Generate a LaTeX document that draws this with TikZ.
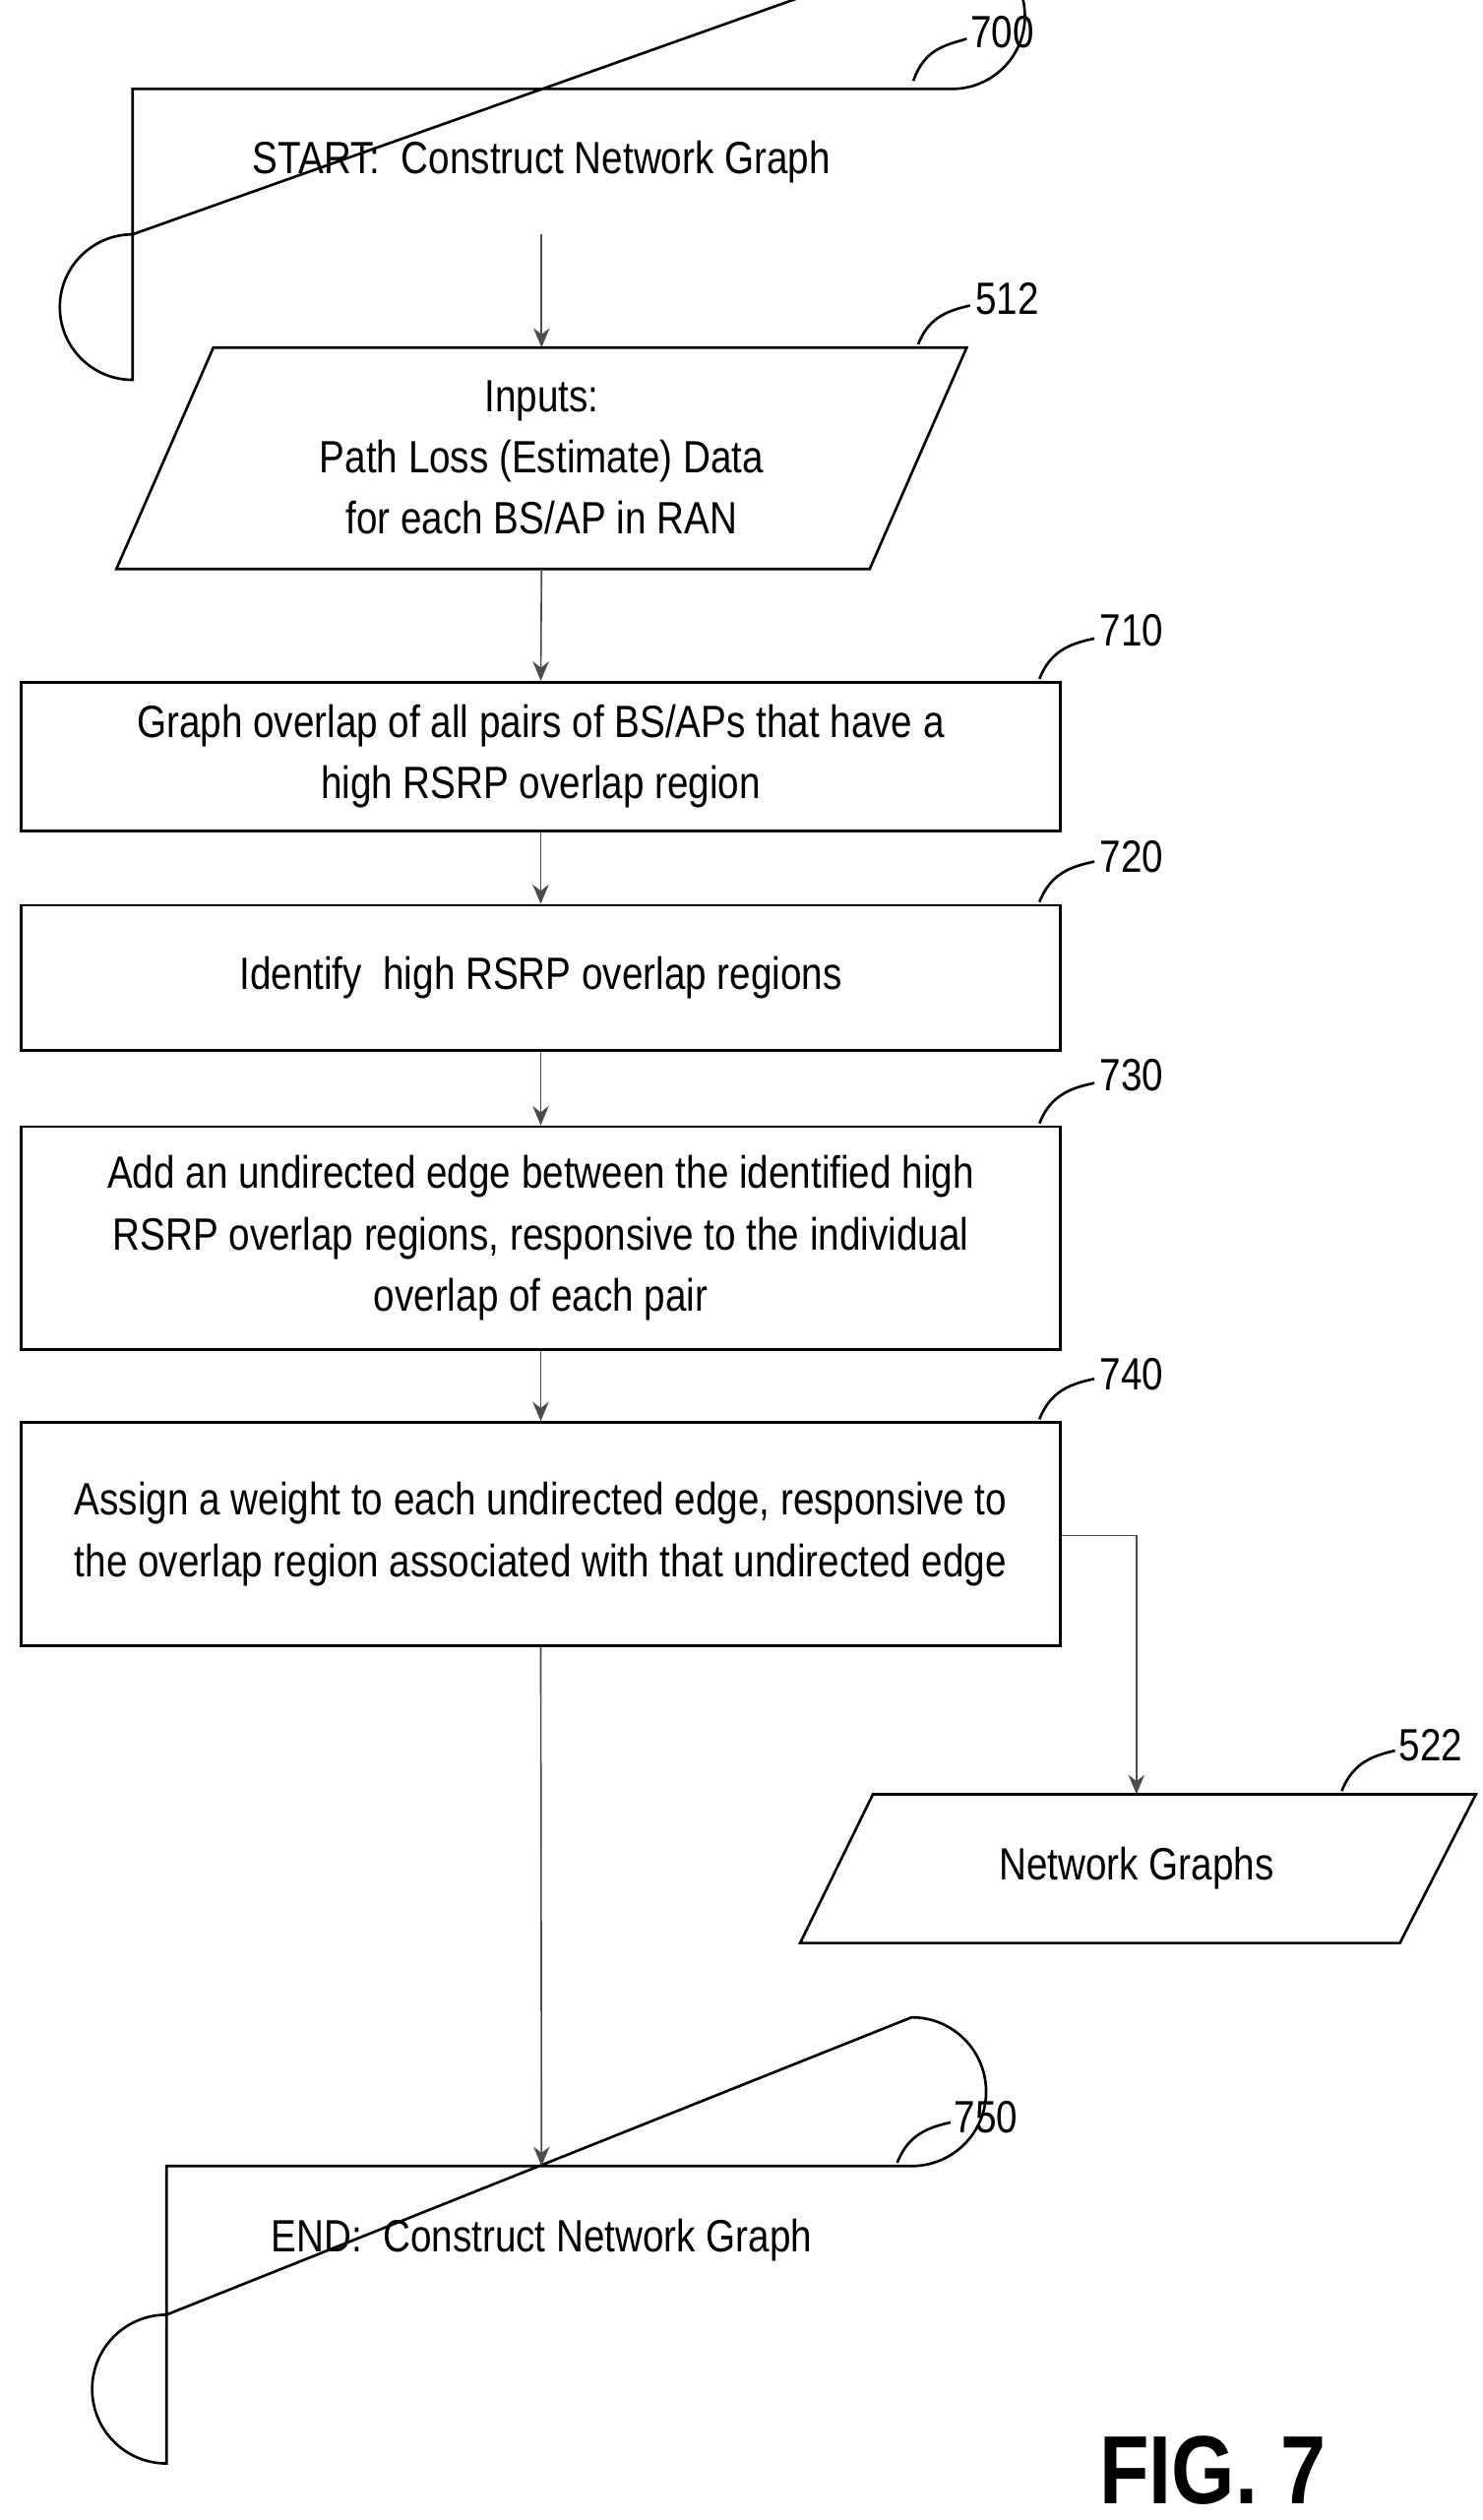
\documentclass[tikz,border=0pt]{standalone}
\usepackage{fontspec}
\setmainfont[FakeStretch=0.84]{Liberation Sans}
\usetikzlibrary{arrows.meta}
\begin{document}
\begin{tikzpicture}[x=0.5pt,y=-0.5pt,
  font=\fontsize{14}{19}\selectfont,
  box/.style={draw,line width=0.8pt},
  arr/.style={draw=black!70,line width=0.5pt,-{Stealth[length=6pt,width=5pt]}},
  lbl/.style={font=\fontsize{14}{17}\selectfont},
  lead/.style={line width=0.8pt}]
\useasboundingbox (0,0) rectangle (917,1559);
% start
\draw[box] (82,55) -- (589,55) arc[start angle=90,end angle=-90,radius=45] -- (82,145) arc[start angle=270,end angle=90,radius=45] -- cycle;
\node (start) at (335,100) {START:\ \ Construct Network Graph};
\coordinate (startb) at (335,145);
\node[lbl] (l700) at (620,20) {700};
\draw[lead] (565,50) .. controls (572,30) and (585,28) .. (598,24);
% inputs
\draw[box] (132,215) -- (598,215) -- (538,352) -- (72,352) -- cycle;
\node[align=center] (inp) at (335,283) {Inputs:\\Path Loss (Estimate) Data\\for each BS/AP in RAN};
\coordinate (inpt) at (335,215); \coordinate (inpb) at (335,352);
\node[lbl] (l512) at (623,185) {512};
\draw[lead] (568,213) .. controls (575,195) and (588,192) .. (600,189);
% boxes
\node[box,minimum width=321.5pt,minimum height=46pt,align=center] (b710) at (334.5,468) {Graph overlap of all pairs of BS/APs that have a\\high RSRP overlap region};
\node[lbl] (l710) at (700,390) {710};
\draw[lead] (643,420) .. controls (650,402) and (663,398) .. (677,395);
\node[box,minimum width=321.5pt,minimum height=45pt,align=center] (b720) at (334.5,605) {Identify\ \ high RSRP overlap regions};
\node[lbl] (l720) at (700,530) {720};
\draw[lead] (643,558) .. controls (650,540) and (663,536) .. (677,533);
\node[box,minimum width=321.5pt,minimum height=69pt,align=center] (b730) at (334.5,766) {Add an undirected edge between the identified high\\RSRP overlap regions, responsive to the individual\\overlap of each pair};
\node[lbl] (l730) at (700,665) {730};
\draw[lead] (643,695) .. controls (650,677) and (663,673) .. (677,670);
\node[box,minimum width=321.5pt,minimum height=69pt,align=center] (b740) at (334.5,949) {Assign a weight to each undirected edge, responsive to\\the overlap region associated with that undirected edge};
\node[lbl] (l740) at (700,850) {740};
\draw[lead] (643,878) .. controls (650,860) and (663,856) .. (677,853);
% network graphs
\draw[box] (540,1110) -- (913,1110) -- (866,1202) -- (495,1202) -- cycle;
\node (ng) at (703,1156) {Network Graphs};
\coordinate (ngt) at (703,1110);
\node[lbl] (l522) at (885,1080) {522};
\draw[lead] (830,1108) .. controls (837,1090) and (850,1086) .. (863,1083);
% end
\draw[box] (103,1340) -- (564,1340) arc[start angle=90,end angle=-90,radius=46] -- (103,1432) arc[start angle=270,end angle=90,radius=46] -- cycle;
\node (end) at (335,1386) {END:\ \ Construct Network Graph};
\coordinate (endt) at (335,1340);
\node[lbl] (l750) at (610,1310) {750};
\draw[lead] (555,1338) .. controls (562,1320) and (575,1316) .. (588,1313);
% arrows
\draw[arr] (startb) -- (inpt);
\draw[arr] (inpb) -- (b710.north);
\draw[arr] (b710.south) -- (b720.north);
\draw[arr] (b720.south) -- (b730.north);
\draw[arr] (b730.south) -- (b740.north);
\draw[arr] (b740.south) -- (endt);
\coordinate (bend) at (703,950);
\draw[arr] (b740.east |- bend) -- (bend) -- (ngt);
% fig
\node[font=\fontsize{30}{34}\selectfont\bfseries] (fig) at (750,1528) {FIG. 7};
\end{tikzpicture}
\end{document}
